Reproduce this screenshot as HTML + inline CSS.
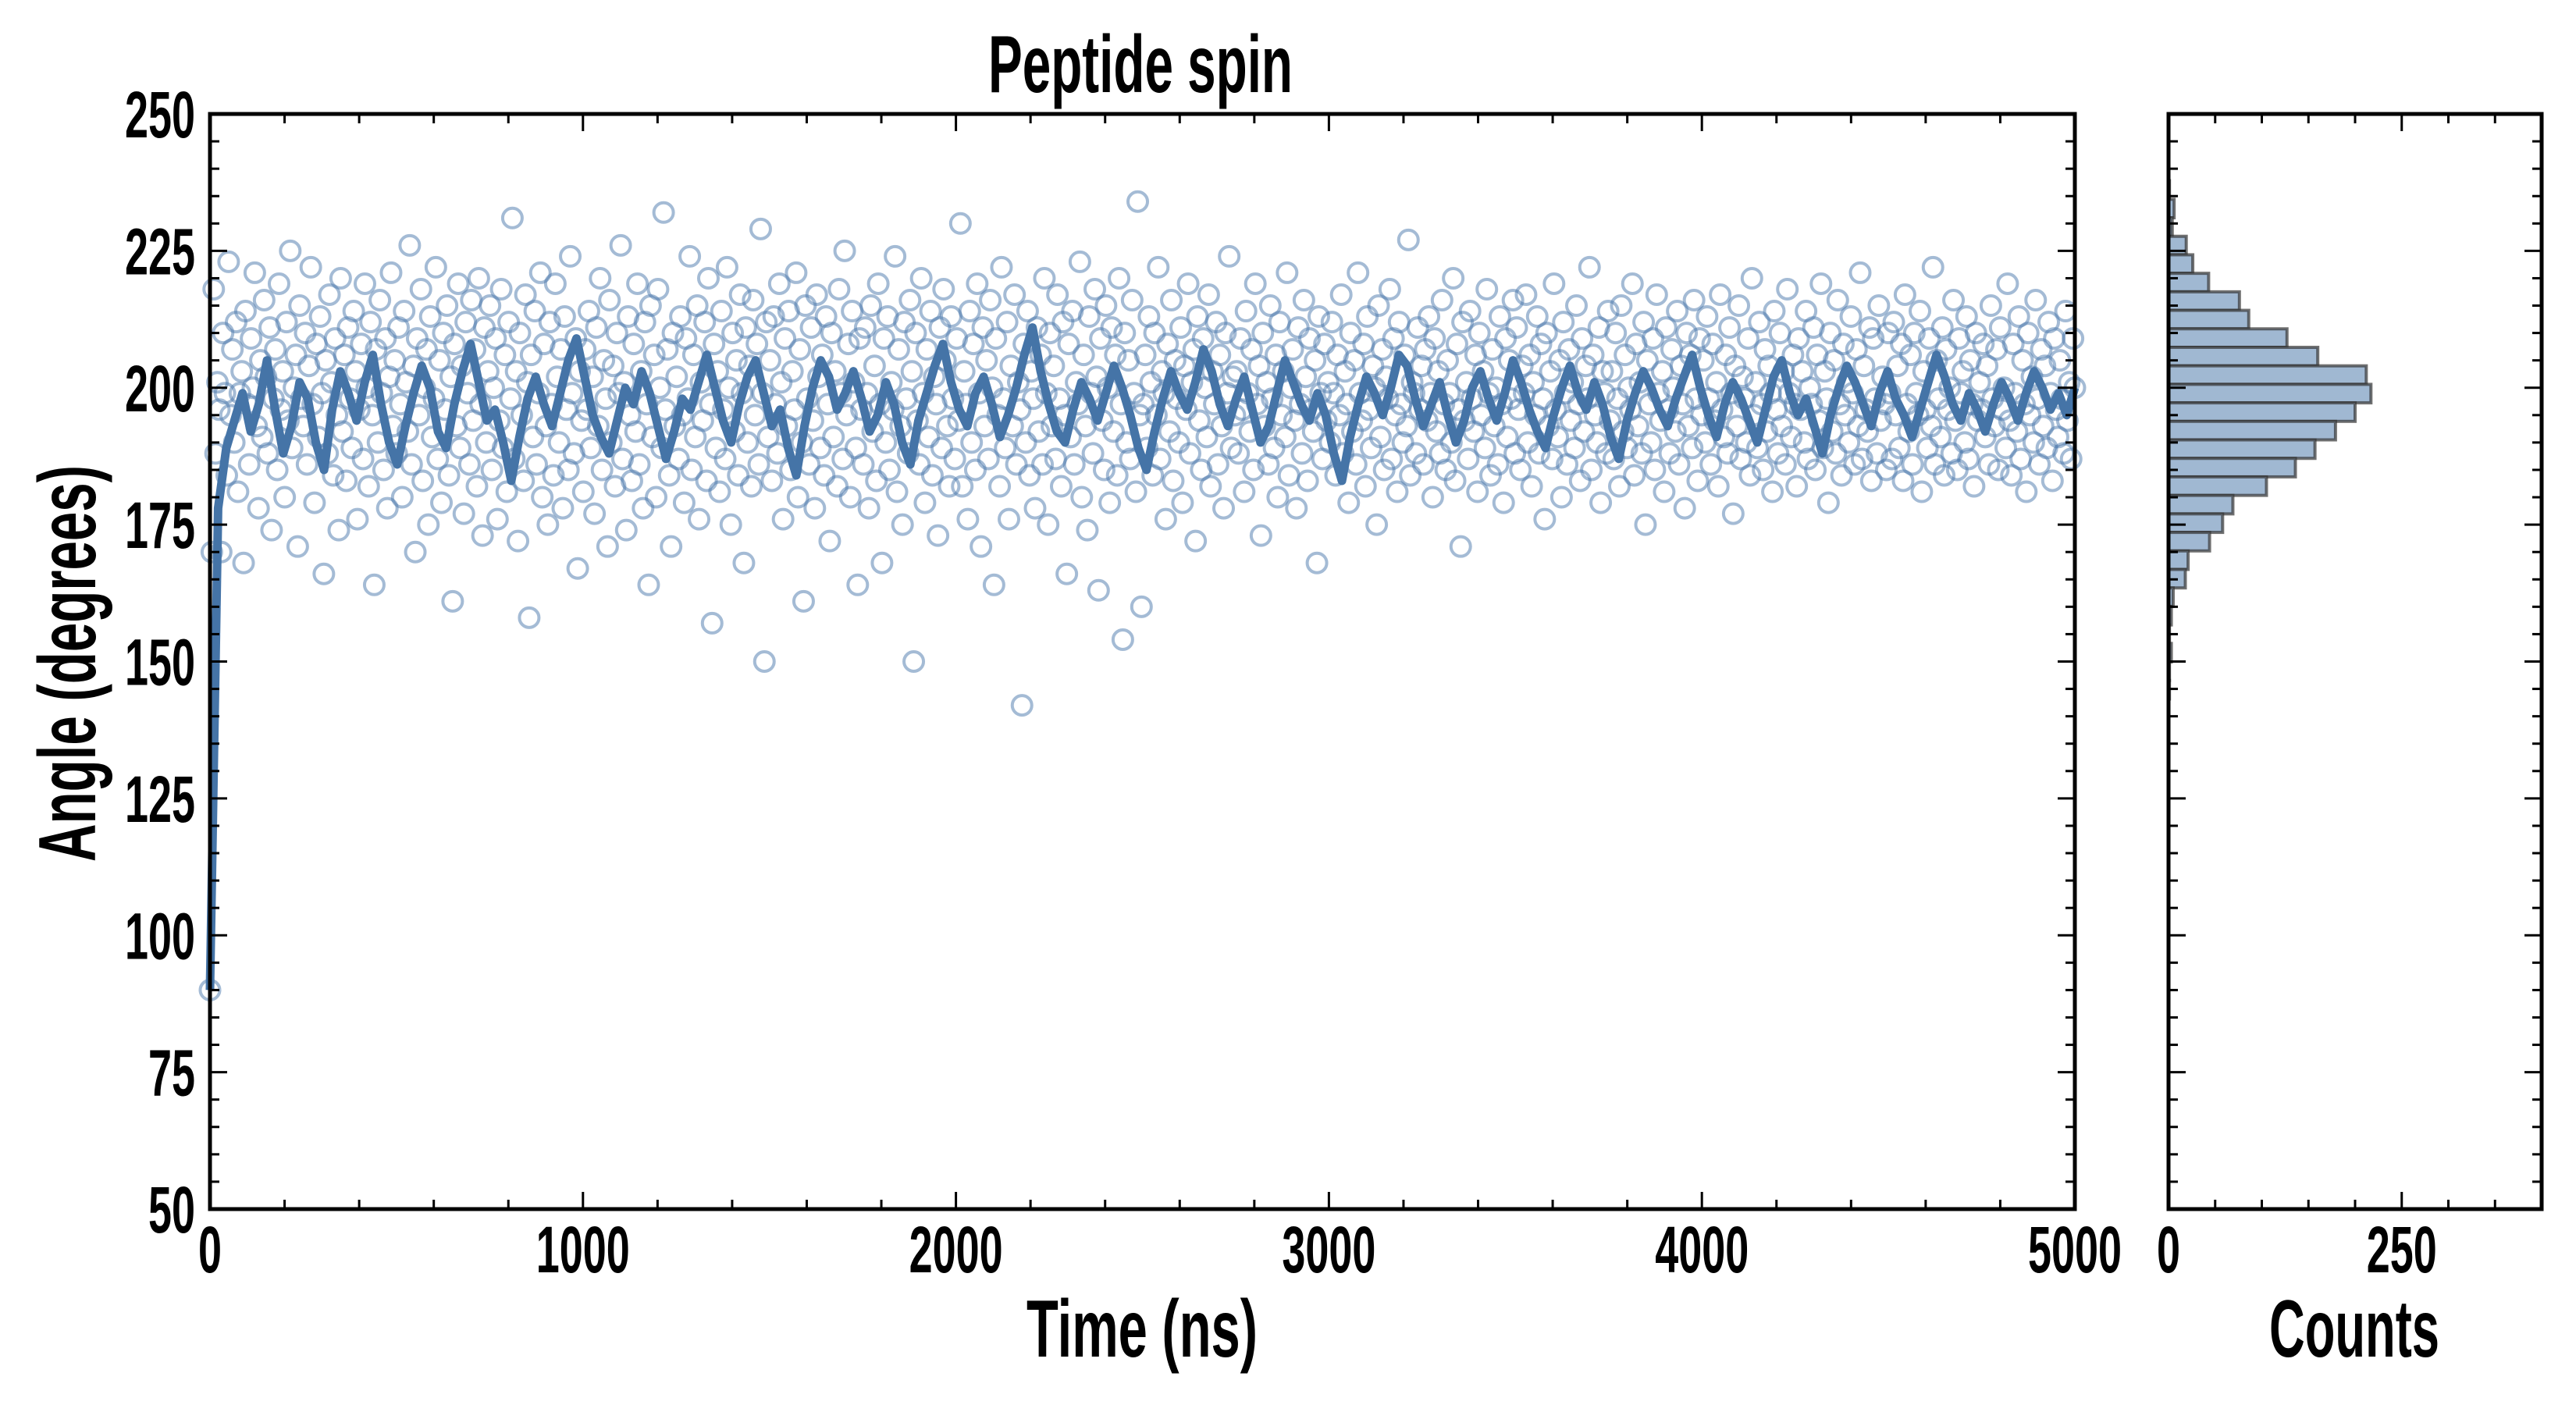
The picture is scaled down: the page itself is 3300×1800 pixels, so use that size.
<!DOCTYPE html>
<html><head><meta charset="utf-8"><style>
html,body{margin:0;padding:0;background:#fff;}
svg{display:block;font-family:"Liberation Sans Narrow","Liberation Sans",sans-serif;font-weight:bold;}
</style></head><body>
<svg id="chart" width="3300" height="1800" viewBox="0 0 3300 1800" xmlns="http://www.w3.org/2000/svg">
<rect width="3300" height="1800" fill="#fff"/>
<text x="1461" y="118" font-size="104" text-anchor="middle" textLength="390" lengthAdjust="spacingAndGlyphs">Peptide spin</text>
<text x="1463" y="1738" font-size="104" text-anchor="middle" textLength="296" lengthAdjust="spacingAndGlyphs">Time (ns)</text>
<text x="3016" y="1738" font-size="104" text-anchor="middle" textLength="218" lengthAdjust="spacingAndGlyphs">Counts</text>
<text transform="translate(122,850) rotate(-90)" x="0" y="0" font-size="104" text-anchor="middle" textLength="508" lengthAdjust="spacingAndGlyphs">Angle (degrees)</text>
<g id="main"></g>
<g id="hist"></g>
</svg>
<script>
const scatterValues=[90,170,218,188,201,196,170,210,199,184,223,195,207,190,212,181,199,203,168,214,197,186,209,200,221,193,178,205,191,216,202,188,211,174,198,207,185,219,196,203,180,212,194,225,189,200,206,171,215,198,
193,210,186,204,222,197,179,208,191,213,199,166,205,188,217,201,184,209,195,174,220,192,206,183,211,198,189,214,203,176,196,208,187,219,200,182,212,195,164,207,190,216,199,185,209,178,202,221,193,205,
188,211,197,180,214,201,192,226,186,204,170,209,195,218,183,200,207,175,213,191,198,222,187,205,179,210,196,215,184,202,161,208,193,219,189,204,177,212,199,186,216,194,207,182,220,197,173,211,190,203,
215,185,200,209,176,194,218,189,206,181,212,198,231,187,203,172,210,195,183,217,201,158,206,191,214,186,199,221,180,208,193,175,212,197,184,219,202,190,207,178,213,196,185,224,199,188,209,167,203,194,
181,207,196,214,189,202,177,211,193,220,185,205,198,171,216,190,204,182,210,199,226,187,201,174,213,195,183,208,192,219,186,203,178,212,197,164,215,191,206,180,218,200,189,232,196,207,184,171,210,193,
202,187,213,195,179,209,198,224,185,206,191,215,176,201,194,212,183,220,197,157,208,189,203,181,214,196,187,222,200,175,210,192,205,184,217,199,168,211,190,204,182,216,195,208,186,229,199,150,212,191,
205,183,213,197,188,219,201,176,209,193,214,185,203,196,221,180,207,190,161,215,198,186,211,194,178,217,202,189,206,184,213,197,172,210,191,203,182,218,199,187,225,195,208,180,214,201,189,164,209,196,
186,211,199,178,215,192,204,183,219,197,168,209,190,213,185,201,196,224,181,207,193,175,212,198,188,216,203,150,210,194,186,220,199,179,207,191,214,184,202,197,173,211,189,218,205,193,182,213,198,187,
209,194,230,182,203,197,176,214,190,208,185,219,199,171,211,193,205,187,216,200,164,209,195,182,222,198,189,212,176,204,193,217,186,201,196,142,208,190,214,184,203,198,178,211,192,206,186,220,199,175,
210,193,204,187,217,198,182,212,195,166,208,191,214,186,201,197,223,180,206,193,174,213,199,188,218,202,163,209,194,185,215,200,179,211,192,206,184,220,197,154,210,190,205,187,216,199,181,234,195,160,
197,206,189,213,201,184,210,195,222,187,203,199,176,208,192,216,183,205,198,190,211,179,204,196,219,188,201,207,172,213,194,185,209,200,191,217,182,203,197,212,186,206,193,178,210,199,224,189,202,195,
203,188,209,196,181,214,199,192,207,185,219,197,204,173,210,193,201,186,215,198,189,206,180,212,195,203,191,221,184,200,207,194,178,211,197,188,216,202,183,209,196,192,205,168,213,199,187,208,194,201,
190,212,199,184,206,195,217,188,203,197,179,210,192,205,186,221,199,194,208,182,213,196,189,204,200,175,215,191,207,185,202,198,218,187,209,195,181,212,197,190,206,193,227,184,201,199,188,211,196,204,
186,207,194,213,199,180,209,192,203,188,216,197,185,205,199,190,220,183,208,196,171,212,194,201,187,214,198,192,206,181,210,195,203,189,218,199,184,207,193,200,186,213,197,179,209,191,205,198,216,188,
211,196,185,204,199,217,190,206,182,201,195,213,188,208,198,176,210,193,203,187,219,196,191,205,180,212,199,186,207,194,201,189,215,197,183,209,192,204,198,222,185,206,195,190,211,179,203,199,188,214,
194,203,187,210,198,182,215,192,206,189,200,196,219,184,208,193,201,188,212,175,205,197,190,209,185,217,199,194,203,181,211,196,188,207,200,192,214,186,204,197,178,210,193,206,189,216,198,183,209,195,
205,190,213,198,186,208,194,201,182,217,196,191,206,188,211,199,177,204,193,215,187,202,198,190,209,184,220,195,201,189,212,197,185,207,192,204,199,181,214,196,188,210,193,203,186,218,199,191,206,197,
182,209,196,203,190,214,187,200,197,211,185,206,194,219,189,203,198,179,210,192,205,188,216,197,184,208,195,201,190,213,199,186,207,193,221,187,204,196,192,211,183,209,198,188,215,194,202,197,185,210,
199,187,212,195,204,189,208,183,217,197,192,206,186,210,199,195,214,181,203,196,189,209,193,222,186,205,198,191,211,184,207,196,200,188,216,194,185,209,199,203,190,213,187,205,197,182,210,194,201,196,
208,191,204,186,215,198,193,207,185,211,196,200,189,219,194,184,208,199,192,213,187,205,197,181,210,195,202,190,216,198,186,207,193,204,189,212,199,183,209,196,191,205,198,188,214,194,201,187,209,200];
const lineValues=[90,178,189,194,199,192,197,205,196,188,193,201,198,190,185,196,203,199,194,201,
206,197,190,186,193,199,204,200,192,189,197,203,208,201,194,196,190,183,191,198,
202,197,193,199,205,209,202,195,191,188,194,200,197,203,199,193,187,192,198,196,
201,206,200,194,190,197,202,205,199,193,196,189,184,193,200,205,202,196,199,203,
198,192,195,201,197,190,186,194,199,204,208,201,196,193,199,202,197,191,195,200,
206,211,203,197,192,190,196,201,198,194,199,204,200,195,189,185,192,198,203,199,
196,201,207,203,197,193,198,202,196,190,193,199,205,201,197,194,199,195,188,183,
191,197,202,199,195,200,206,204,198,193,197,201,195,190,194,200,203,198,194,199,
205,201,196,192,189,195,200,204,199,196,201,197,191,187,194,199,203,200,196,193,
198,202,206,200,195,191,197,201,198,194,190,196,202,205,199,195,198,193,188,195,
200,204,201,197,193,199,203,198,195,191,196,201,206,202,197,194,199,196,192,197,
201,198,194,199,203,200,196,199,195,200];
const histCounts=[1,6,4,19,26,43,76,86,127,160,212,217,200,179,157,136,105,69,58,44,21,18,5,3,1,3,1,1];
const histTop=237.8, histBinWidth=3.38;
const xTickLabels=["0","1000","2000","3000","4000","5000"];
const yTickLabels=["50","75","100","125","150","175","200","225","250"];
const histTickLabels=["0","250"];

const NS="http://www.w3.org/2000/svg";
const L=269,R=2658,T=146,B=1549,HL=2778,HR=3256;
const xS=t=>L+(t/5000)*(R-L);
const yS=v=>B-(v-50)/200*(B-T);
const cS=c=>HL+c/400*(HR-HL);
function mk(tag,attrs,parent){const e=document.createElementNS(NS,tag);for(const k in attrs)e.setAttribute(k,attrs[k]);parent.appendChild(e);return e;}
const main=document.getElementById('main'), hist=document.getElementById('hist');

const sg=mk('g',{},main);


scatterValues.forEach((v,i)=>{
  const c=mk('circle',{cx:xS(i*5000/(scatterValues.length-1)),cy:yS(v),r:12.5,fill:'none',stroke:'#4a78ab','stroke-width':4,'stroke-opacity':0.5},sg);
  
  
});
const pts=lineValues.map((v,i)=>xS(i*5000/(lineValues.length-1)).toFixed(1)+','+yS(v).toFixed(1)).join(' ');
const pl=mk('polyline',{points:pts,fill:'none',stroke:'#4574a7','stroke-width':11,'stroke-linejoin':'round'},main);



histCounts.forEach((c,i)=>{
  const hi=histTop-i*histBinWidth, lo=hi-histBinWidth;
  const r=mk('rect',{x:HL,y:yS(hi),width:cS(c)-HL,height:yS(lo)-yS(hi),fill:'#a0b8d2',stroke:'#333','stroke-width':4,'stroke-opacity':0.7},hist);
  
  
});

function frame(x0,x1,parent,name){
  const f=mk('rect',{x:x0,y:T,width:x1-x0,height:B-T,fill:'none',stroke:'#000','stroke-width':5},parent);
  
  
  for(let v=50;v<=250;v+=5){
    const len=(v%25===0)?22:12;const y=yS(v);
    mk('line',{x1:x0,x2:x0+len,y1:y,y2:y,stroke:'#000','stroke-width':3},parent);
    mk('line',{x1:x1,x2:x1-len,y1:y,y2:y,stroke:'#000','stroke-width':3},parent);
  }
}
frame(L,R,main,'main-plot-frame');
frame(HL,HR,hist,'hist-plot-frame');
for(let t=0;t<=5000;t+=200){
  const len=(t%1000===0)?22:12;const x=xS(t);
  mk('line',{x1:x,x2:x,y1:B,y2:B-len,stroke:'#000','stroke-width':3},main);
  mk('line',{x1:x,x2:x,y1:T,y2:T+len,stroke:'#000','stroke-width':3},main);
}
for(let c=0;c<=400;c+=50){
  const len=(c%250===0)?22:12;const x=cS(c);
  mk('line',{x1:x,x2:x,y1:B,y2:B-len,stroke:'#000','stroke-width':3},hist);
  mk('line',{x1:x,x2:x,y1:T,y2:T+len,stroke:'#000','stroke-width':3},hist);
}
function txt(s,x,y,anchor,parent,name){
  const e=mk('text',{x:x,y:y,'font-size':84,'text-anchor':anchor,textLength:s.length*30,lengthAdjust:'spacingAndGlyphs'},parent);
  e.textContent=s;
  
  
}
xTickLabels.forEach((s,i)=>txt(s,xS(i*1000),1630,'middle',main,'x-tick-label'));
yTickLabels.forEach((s,i)=>txt(s,250,yS(50+i*25)+30,'end',main,'y-tick-label'));
histTickLabels.forEach((s,i)=>txt(s,cS(i*250),1630,'middle',hist,'hist-x-tick-label'));
</script>
</body></html>
